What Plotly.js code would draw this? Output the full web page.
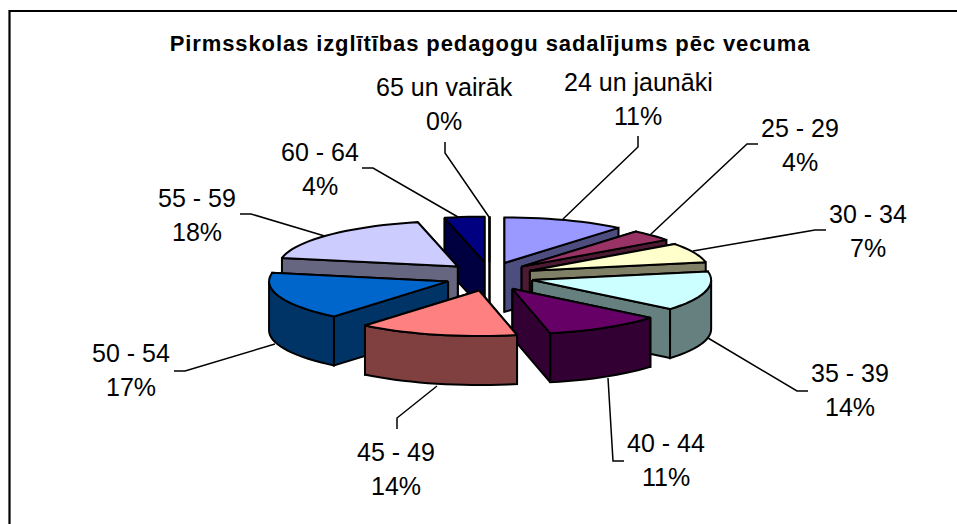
<!DOCTYPE html>
<html>
<head>
<meta charset="utf-8">
<script src="https://cdn.plot.ly/plotly-3.0.1.min.js"></script>
<style>html,body{margin:0;padding:0;background:#fff;overflow:hidden}#c{width:957px;height:524px}.gtitle{letter-spacing:0.9px}</style>
</head>
<body>
<div id="c"></div>
<script>
const chartTitle = 'Pirmsskolas izglītības pedagogu sadalījums pēc vecuma';
const categories = ['24 un jaunāki','25 - 29','30 - 34','35 - 39','40 - 44','45 - 49','50 - 54','55 - 59','60 - 64','65 un vairāk'];
const shares = [11,4,7,14,10.6,14.4,17,18.4,3.6,0];

const topColors  = ['#9999FF','#993366','#FFFFCC','#CCFFFF','#660066','#FF8080','#0066CC','#CCCCFF','#000080','#FFFFFF'];
const sideColors = ['#4D4D80','#4D1A33','#808066','#668080','#330033','#804040','#003366','#666680','#000040','#FFFFFF'];
const paintOrder = [8,9,7,0,1,2,3,4,6,5];

const labelCentres = [[638,82],[800,128],[868,214],[850,373],[666,443],[396,452],[131,353],[197,198],[320,152],[444,87]];
const lineGap = 34;
const leaders = [
  [[638,136],[638,147],[563,219]],
  [[758,144],[747,144],[650,235]],
  [[826,230],[815,230],[693,251]],
  [[808,391],[797,391],[708,338]],
  [[624,461],[613,461],[608,378]],
  [[397,429],[397,418],[437,386]],
  [[174,371],[185,371],[275,344]],
  [[240,214],[251,214],[328,237]],
  [[362,168],[373,168],[458,217]],
  [[445,142],[445,153],[489,217]]
];

const pie = {cx:489.5, cy:276.5, rx:179, ry:45.5, depth:49, explodeX:0.246, explodeY:0.317};
const rad = d => d*Math.PI/180;
const total = shares.reduce((a,b)=>a+b,0);

let cum = 0;
const slices = shares.map(v => {
  const a0 = cum/total*360; cum += v; const a1 = cum/total*360;
  const mid = (a0+a1)/2;
  return {a0, a1,
    ax: pie.cx + pie.explodeX*pie.rx*Math.sin(rad(mid)),
    ay: pie.cy - pie.explodeY*pie.ry*Math.cos(rad(mid))};
});
function rimPt(s,a,dz){ return [s.ax+pie.rx*Math.sin(rad(a)), s.ay-pie.ry*Math.cos(rad(a))+(dz||0)]; }
function arc(s,a0,a1,dz){
  const n = Math.max(1,Math.ceil((a1-a0)/3)), pts=[];
  for(let i=0;i<=n;i++) pts.push(rimPt(s,a0+(a1-a0)*i/n,dz));
  return pts;
}
function face(pts,fill){
  const closed = pts.concat([pts[0]]);
  return {type:'scatter',mode:'lines',x:closed.map(p=>p[0]),y:closed.map(p=>p[1]),
    fill:'toself',fillcolor:fill,line:{color:'#000',width:2,simplify:false},hoverinfo:'skip',showlegend:false};
}
function radial(s,a,fill){
  const r=rimPt(s,a,0), rb=rimPt(s,a,pie.depth);
  return face([[s.ax,s.ay],r,rb,[s.ax,s.ay+pie.depth]],fill);
}

const traces = [];
leaders.forEach(l => traces.push({type:'scatter',mode:'lines',x:l.map(p=>p[0]),y:l.map(p=>p[1]),
  line:{color:'#000',width:1.5},hoverinfo:'skip',showlegend:false}));

paintOrder.forEach(i => {
  const s = slices[i], side = sideColors[i];
  const startVisible = Math.sin(rad(s.a0)) < -1e-6;
  const endVisible = Math.sin(rad(s.a1)) > 1e-6;
  if(!startVisible) traces.push(radial(s,s.a0,side));
  if(!endVisible) traces.push(radial(s,s.a1,side));
  if(startVisible) traces.push(radial(s,s.a0,side));
  if(endVisible) traces.push(radial(s,s.a1,side));
  const w0 = Math.max(s.a0,90), w1 = Math.min(s.a1,270);
  if(w1 > w0){
    traces.push(face(arc(s,w0,w1,0).concat(arc(s,w0,w1,pie.depth).reverse()),side));
  }
  traces.push(face([[s.ax,s.ay]].concat(arc(s,s.a0,s.a1,0)),topColors[i]));
});

const labelFont = {family:'"Liberation Sans", Arial, sans-serif',size:25,color:'#000'};
const annotations = [];
categories.forEach((name,i) => {
  const [x,y] = labelCentres[i];
  annotations.push({x,y,xref:'x',yref:'y',text:name,showarrow:false,font:labelFont,xanchor:'center',yanchor:'middle'});
  annotations.push({x,y:y+lineGap,xref:'x',yref:'y',text:Math.round(shares[i])+'%',showarrow:false,font:labelFont,xanchor:'center',yanchor:'middle'});
});

const layout = {
  width:957,height:524,margin:{l:0,r:0,t:0,b:0},
  paper_bgcolor:'#fff',plot_bgcolor:'#fff',showlegend:false,
  title:{text:chartTitle,font:{family:'"Liberation Sans", Arial, sans-serif',size:22,color:'#000',weight:'bold'},
    x:490/957,xanchor:'center',y:1-43/524,yanchor:'middle'},
  xaxis:{range:[0,957],visible:false,fixedrange:true},
  yaxis:{range:[524,0],visible:false,fixedrange:true},
  annotations,
  shapes:[{type:'path',xref:'x',yref:'y',path:'M 9.5 524 L 9.5 11 L 957 11',line:{color:'#000',width:2.2}}]
};
Plotly.newPlot('c',traces,layout,{displayModeBar:false,staticPlot:true});
</script>
</body>
</html>
